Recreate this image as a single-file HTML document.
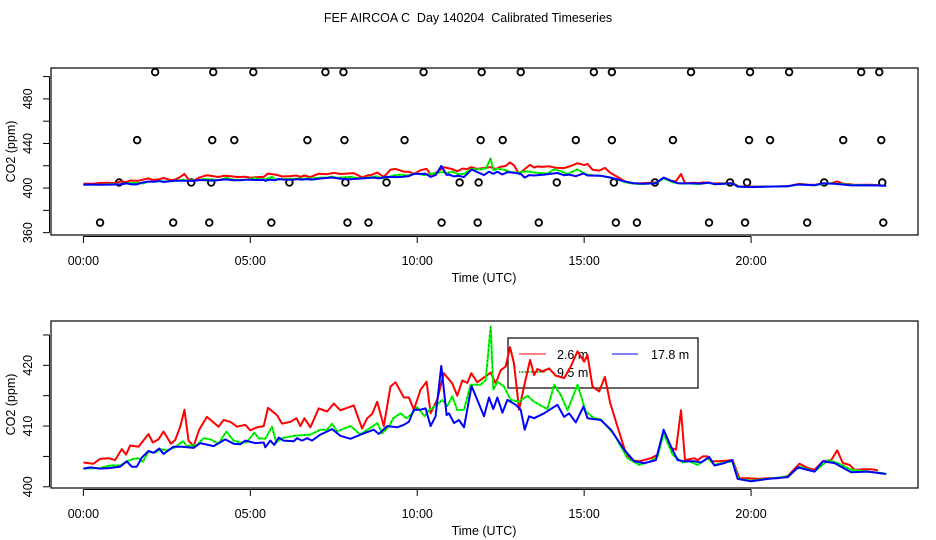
<!DOCTYPE html>
<html><head><meta charset="utf-8"><style>
html,body{margin:0;padding:0;background:#fff;}
svg{display:block;font-family:"Liberation Sans",Arial,sans-serif;}
</style></head><body>
<svg id="chart" width="936" height="540" viewBox="0 0 936 540" xmlns="http://www.w3.org/2000/svg">
<rect width="936" height="540" fill="#fff"/>
<text x="468" y="22" font-size="12.5" text-anchor="middle" style="white-space:pre">FEF AIRCOA C  Day 140204  Calibrated Timeseries</text>
<g id="top"></g><g id="bot"></g>
</svg>
<script>
// ---- data ----
const xTickHours = [0,5,10,15,20];
const xTickLabels = ["00:00","05:00","10:00","15:00","20:00"];
const topYTicks = [360,380,400,420,440,460,480,500];
const topYLabels = [360,400,440,480];
const botYTicks = [400,405,410,415,420,425];
const botYLabels = [400,410,420];

const redT = [0,0.3,0.5,0.75,0.95,1.15,1.28,1.4,1.65,1.95,2.08,2.25,2.4,2.62,2.75,2.9,3.03,3.15,3.3,3.47,3.7,4.05,4.2,4.4,4.6,4.85,5.0,5.2,5.4,5.53,5.8,5.95,6.2,6.38,6.5,6.62,6.8,7.05,7.3,7.5,7.7,8.1,8.35,8.5,8.65,8.8,9.0,9.2,9.35,9.6,9.75,9.9,10.1,10.28,10.4,10.6,10.8,11.05,11.2,11.35,11.5,11.62,11.8,12.2,12.35,12.5,12.65,12.78,12.9,13.05,13.22,13.38,13.5,13.6,13.75,13.95,14.15,14.4,14.6,14.8,15.0,15.1,15.25,15.45,15.62,15.78,16.0,16.25,16.4,16.65,17.0,17.2,17.38,17.6,17.75,17.9,18.02,18.3,18.4,18.55,18.7,18.8,19.0,19.25,19.45,19.65,19.9,20.2,20.5,20.8,21.1,21.45,21.7,21.9,22.15,22.4,22.58,22.75,22.95,23.1,23.4,23.6,23.8];
const redV = [404.0,403.8,404.6,404.7,404.4,406.2,405.3,406.8,406.6,408.7,407.3,407.8,409.1,407.1,407.7,409.9,412.7,407.6,406.7,409.4,411.5,409.9,411.0,410.7,409.9,410.2,409.3,409.8,410.0,413.0,411.8,410.4,410.7,411.3,410.0,411.3,409.8,412.9,412.4,413.7,412.6,413.4,409.6,411.3,412.0,414.0,410.0,416.5,417.2,414.7,414.7,412.7,416.0,417.3,412.1,414.4,418.7,417.0,415.0,417.5,417.1,418.7,417.2,418.8,417.0,419.2,419.8,423.0,420.3,412.7,417.0,420.9,418.4,419.4,419.0,419.5,418.3,417.9,419.8,422.3,420.6,421.7,416.5,415.7,418.1,413.8,409.9,405.5,404.4,404.2,404.7,405.3,409.1,406.4,406.1,412.6,404.4,404.7,404.4,405.0,405.0,404.2,404.2,404.3,404.4,401.4,401.4,401.3,401.4,401.4,401.8,403.8,403.1,402.8,404.2,404.4,406.0,403.9,403.6,402.8,402.9,402.9,402.7];

const greenT = [0,0.5,0.8,1.1,1.3,1.5,1.65,1.78,1.95,2.15,2.3,2.5,2.75,2.98,3.1,3.4,3.6,3.8,4.05,4.28,4.5,4.7,4.88,5.12,5.25,5.45,5.65,5.78,5.95,6.3,6.8,7.1,7.3,7.45,7.6,7.8,8.0,8.3,8.5,8.65,8.8,8.95,9.15,9.28,9.5,9.68,9.8,10.0,10.22,10.35,10.55,10.75,10.9,11.05,11.2,11.4,11.6,11.9,12.05,12.2,12.28,12.4,12.6,12.8,13.05,13.3,13.5,13.9,14.1,14.3,14.5,14.8,15.05,15.3,15.5,15.9,16.3,16.65,17.0,17.2,17.38,17.65,17.95,18.15,18.4,18.7,18.9,19.2,19.45,19.62,20.0,20.5,21.1,21.45,21.9,22.3,22.6,23.0,23.5,24.0];
const greenV = [403.0,403.1,403.5,403.5,404.2,404.6,404.7,404.1,405.8,405.6,406.2,406.0,406.5,407.5,406.7,406.9,408.0,407.8,407.1,409.1,407.6,407.3,407.3,408.9,408.0,407.9,409.9,407.3,408.0,408.4,408.6,409.4,409.4,410.4,409.1,409.6,410.0,408.6,409.4,409.9,410.5,408.8,409.9,411.3,412.1,411.3,411.8,413.1,411.6,412.6,413.3,414.3,413.3,414.9,412.6,412.7,416.8,416.8,417.6,426.4,416.0,417.3,416.5,414.3,414.0,415.0,414.0,412.8,416.8,415.1,412.6,416.8,412.4,411.3,411.1,408.6,404.7,403.6,404.2,405.0,408.8,405.3,404.0,404.2,403.6,404.7,403.6,404.0,404.2,401.3,401.0,401.3,401.7,403.3,402.5,404.4,403.9,402.8,402.5,402.2];

const blueT = [0,0.2,0.5,0.8,1.1,1.3,1.45,1.6,1.75,1.95,2.1,2.27,2.4,2.7,2.95,3.3,3.5,3.9,4.25,4.5,4.7,4.85,5.15,5.4,5.45,5.6,5.72,5.85,6.0,6.3,6.4,6.55,6.7,6.85,7.1,7.45,7.7,8.0,8.35,8.7,8.85,9.1,9.4,9.6,9.75,9.9,10.1,10.25,10.4,10.55,10.72,10.88,10.95,11.1,11.25,11.4,11.63,11.8,12.0,12.15,12.28,12.4,12.55,12.7,12.95,13.1,13.22,13.35,13.5,13.8,14.2,14.4,14.55,14.75,14.98,15.1,15.5,15.8,16.2,16.5,16.8,17.15,17.38,17.6,17.8,18.0,18.3,18.5,18.75,18.9,19.2,19.43,19.6,20.0,20.5,21.1,21.4,21.9,22.15,22.5,23.0,23.5,24.05];
const blueV = [403.0,403.2,403.0,403.1,403.3,404.2,403.3,403.3,404.8,405.9,405.6,406.3,405.4,406.6,406.6,406.4,407.2,406.7,407.8,407.1,407.0,407.6,407.2,407.3,406.5,407.6,406.9,408.1,407.6,407.5,408.0,407.6,408.0,407.6,408.6,409.5,408.4,407.9,408.7,409.4,408.7,410.0,409.8,410.2,410.7,412.7,412.7,412.9,410.0,411.6,419.9,411.8,412.1,410.5,411.0,409.8,416.6,414.3,411.6,414.7,412.8,414.7,412.2,414.3,413.5,412.7,409.4,411.6,411.3,412.1,413.5,411.5,412.1,410.6,413.2,411.3,411.0,409.4,406.1,404.2,403.9,404.4,409.4,406.6,404.4,404.2,404.2,404.0,404.9,403.5,403.9,404.4,401.3,400.9,401.3,401.6,403.2,402.5,404.2,403.9,402.4,402.5,402.1];

// outlier circles (top panel)
const ptsHiT = [2.15,3.89,5.09,7.25,7.79,10.19,11.93,13.10,15.29,15.83,18.20,19.97,21.14,23.30,23.84];
const ptsHiV = 504;
const pts443T = [1.61,3.86,4.52,6.71,7.82,9.62,11.90,12.56,14.75,15.83,17.66,19.94,20.57,22.76,23.90];
const pts443V = 443;
const pts405T = [1.07,3.23,3.83,6.17,7.85,9.08,11.27,11.84,14.18,15.89,17.12,19.37,19.88,22.19,23.93];
const pts405V = 405;
const pts369T = [0.50,2.69,3.77,5.63,7.91,8.54,10.73,11.81,13.64,15.95,16.58,18.74,19.82,21.68,23.96];
const pts369V = 369;

// ---- drawing ----
const NS = "http://www.w3.org/2000/svg";
function mk(tag, attrs, parent){const e=document.createElementNS(NS,tag);for(const k in attrs)e.setAttribute(k,attrs[k]);parent.appendChild(e);return e;}
const X0=51, X1=918, H0=-0.97, H1=25.0;
function xs(h){return X0+(h-H0)/(H1-H0)*(X1-X0);}

function panel(g, top, bot, yMin, yMax, yTicks, yLabels, name){
  const ys = v => bot-(v-yMin)/(yMax-yMin)*(bot-top);
  const box = mk('rect',{x:X0,y:top,width:X1-X0,height:bot-top,fill:'none',stroke:'#000','stroke-width':1.2},g);
  
  
  const xa = mk('g',{},g);
  
  
  mk('line',{x1:xs(xTickHours[0]),x2:xs(xTickHours[xTickHours.length-1]),y1:bot+1.5,y2:bot+1.5,stroke:'#000'},xa);
  xTickHours.forEach((h,i)=>{
    mk('line',{x1:xs(h),x2:xs(h),y1:bot+1.5,y2:bot+8,stroke:'#000'},xa);
    const t=mk('text',{x:xs(h),y:bot+30,'font-size':12.5,'text-anchor':'middle'},xa);t.textContent=xTickLabels[i];
  });
  const xt=mk('text',{x:484,y:bot+47,'font-size':12.5,'text-anchor':'middle'},g);
  xt.textContent='Time (UTC)';
  
  
  const ya = mk('g',{},g);
  
  
  mk('line',{x1:X0-1.5,x2:X0-1.5,y1:ys(yTicks[0]),y2:ys(yTicks[yTicks.length-1]),stroke:'#000'},ya);
  yTicks.forEach(v=>{mk('line',{x1:X0-8,x2:X0-1.5,y1:ys(v),y2:ys(v),stroke:'#000'},ya);});
  yLabels.forEach(v=>{const t=mk('text',{x:0,y:0,'font-size':12.5,'text-anchor':'middle',transform:`translate(32,${ys(v)}) rotate(-90)`},ya);t.textContent=v;});
  const yt=mk('text',{x:0,y:0,'font-size':12.5,'text-anchor':'middle',transform:`translate(15,${(top+bot)/2}) rotate(-90)`},g);
  yt.textContent='CO2 (ppm)';
  
  
  return ys;
}
function series(g, ys, T, V, color, name, dotted){
  const d=T.map((h,i)=>(i?'L':'M')+xs(h).toFixed(1)+','+ys(V[i]).toFixed(1)).join(' ');
  const p=mk('path',{d:d,fill:'none',stroke:color,'stroke-width':2,'stroke-linejoin':'round'},g);
  
  
  if(dotted){mk('path',{d:d,fill:'none',stroke:'#000','stroke-width':0.6,'stroke-dasharray':'1 4'},g);}
}

const gt=document.getElementById('top');
const ysT=panel(gt,68,235,357.9,507.7,topYTicks,topYLabels,'top-panel');
[[ptsHiT,ptsHiV],[pts443T,pts443V],[pts405T,pts405V],[pts369T,pts369V]].forEach(([T,v])=>{
  T.forEach(h=>{
    const c=mk('circle',{cx:xs(h),cy:ysT(v),r:3.3,fill:'none',stroke:'#000','stroke-width':1.8},gt);
    
    
  });
});
series(gt,ysT,redT,redV,'#f00','top-series-2-6m');
series(gt,ysT,greenT,greenV,'#0f0','top-series-9-5m',true);
series(gt,ysT,blueT,blueV,'#00f','top-series-17-8m');

const gb=document.getElementById('bot');
const ysB=panel(gb,321,488,399.8,427.3,botYTicks,botYLabels,'bottom-panel');
const lg=mk('g',{},gb);


mk('rect',{x:508,y:338,width:190,height:50,fill:'none',stroke:'#000','stroke-width':1.2},lg);
mk('line',{x1:519,x2:546,y1:354,y2:354,stroke:'#f00'},lg);
let t=mk('text',{x:557,y:359,'font-size':12.5},lg);t.textContent='2.6 m';
mk('line',{x1:612,x2:638,y1:354,y2:354,stroke:'#00f'},lg);
t=mk('text',{x:651,y:359,'font-size':12.5},lg);t.textContent='17.8 m';
mk('line',{x1:519,x2:546,y1:372,y2:372,stroke:'#0f0'},lg);
mk('line',{x1:519,x2:546,y1:372,y2:372,stroke:'#000','stroke-dasharray':'1 2'},lg);
t=mk('text',{x:557,y:377,'font-size':12.5},lg);t.textContent='9.5 m';
series(gb,ysB,redT,redV,'#f00','bottom-series-2-6m');
series(gb,ysB,greenT,greenV,'#0f0','bottom-series-9-5m',true);
series(gb,ysB,blueT,blueV,'#00f','bottom-series-17-8m');
</script>
</body></html>
